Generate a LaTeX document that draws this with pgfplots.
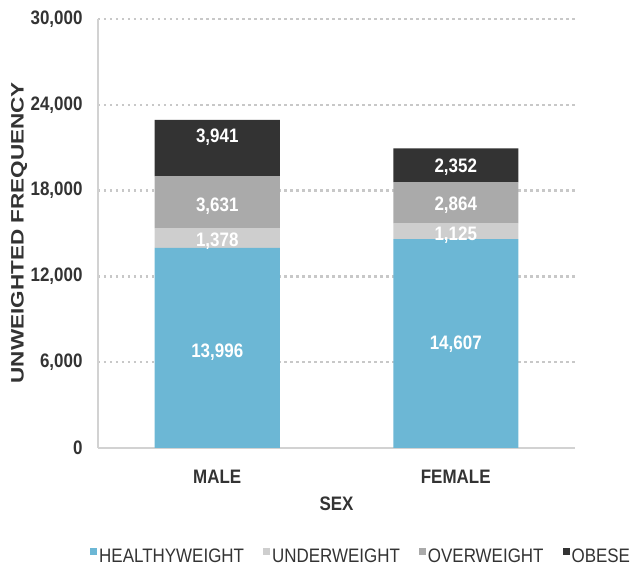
\documentclass[border=0pt]{standalone}
\usepackage{pgfplots}
\pgfplotsset{compat=1.18}
\usepackage{fontspec}
\setmainfont{Liberation Sans}[FakeStretch=0.87]
\newfontfamily\vfont{Liberation Sans}[FakeStretch=1.25]
\definecolor{cHealthy}{RGB}{108,183,213}
\definecolor{cUnder}{RGB}{206,206,206}
\definecolor{cOver}{RGB}{170,170,170}
\definecolor{cObese}{RGB}{51,51,51}
\definecolor{cGrid}{RGB}{200,200,200}
\definecolor{cAxis}{RGB}{210,210,210}
\definecolor{cText}{RGB}{51,51,51}
\pgfplotsset{
  sqleg/.style={legend image code/.code={\fill[##1,draw=none] (0pt,1pt) rectangle (7pt,8pt);}}
}
\begin{document}
\begin{tikzpicture}
\begin{axis}[
  at={(0pt,0pt)}, anchor=south west,
  scale only axis, width=477pt, height=429pt,
  ybar stacked, bar width=125pt,
  xmin=-0.5, xmax=1.5, ymin=0, ymax=30000,
  xtick={0,1}, xticklabels={MALE,FEMALE},
  ytick={0,6000,12000,18000,24000,30000},
  scaled y ticks=false,
  /pgf/number format/assume math mode=true,
  /pgf/number format/1000 sep={,},
  axis x line*=bottom, axis y line*=left,
  axis line style={draw=cAxis, line width=2pt, -},
  major tick length=0pt,
  tick style={draw=none},
  ymajorgrids,
  grid style={cGrid, line width=2.5pt, dash pattern=on 2.5pt off 3.5pt},
  yticklabel style={font=\bfseries\fontsize{19.5}{21}\selectfont, color=cText, anchor=east, xshift=-12pt},
  xticklabel style={font=\bfseries\fontsize{19.5}{21}\selectfont, color=cText, anchor=north, yshift=-19pt},
  xlabel={SEX},
  xlabel style={font=\bfseries\fontsize{19.5}{21}\selectfont, color=cText, at={(axis description cs:0.5,-0.13)}, anchor=center},
  ylabel={UNWEIGHTED FREQUENCY},
  ylabel style={font=\vfont\bfseries\fontsize{18}{20}\selectfont, color=cText, at={(axis description cs:-0.1656,0.502)}, anchor=center},
  legend style={at={(axis description cs:-0.023,-0.225)}, anchor=north west, draw=none, fill=none,
     font=\fontsize{19.5}{21}\selectfont, text=cText,
     legend columns=4,
     /tikz/every even column/.append style={column sep=17pt}},
  legend cell align=left,
]
\addplot[fill=cHealthy, draw=none, sqleg] coordinates {(0,13996) (1,14607)};
\addplot[fill=cUnder, draw=none, sqleg] coordinates {(0,1378) (1,1125)};
\addplot[fill=cOver, draw=none, sqleg] coordinates {(0,3631) (1,2864)};
\addplot[fill=cObese, draw=none, sqleg] coordinates {(0,3941) (1,2352)};
\legend{HEALTHYWEIGHT, UNDERWEIGHT, OVERWEIGHT, OBESE}
\end{axis}
\begin{axis}[
  at={(0pt,0pt)}, anchor=south west,
  scale only axis, width=477pt, height=429pt,
  xmin=-0.5, xmax=1.5, ymin=0, ymax=30000,
  hide axis,
]
\addplot[draw=none, mark=none, nodes near coords, point meta=explicit symbolic,
  every node near coord/.append style={font=\bfseries\fontsize{19.5}{21}\selectfont, text=white, anchor=center}]
  coordinates {
  (0,6713) [13{,}996]
  (0,14476) [1{,}378]
  (0,16923) [3{,}631]
  (0,21748) [3{,}941]
  (1,7273) [14{,}607]
  (1,14895) [1{,}125]
  (1,16993) [2{,}864]
  (1,19650) [2{,}352]
  };
\end{axis}
\pgfresetboundingbox
\path (-98pt,-119pt) rectangle (534pt,448pt);
\end{tikzpicture}
\end{document}
